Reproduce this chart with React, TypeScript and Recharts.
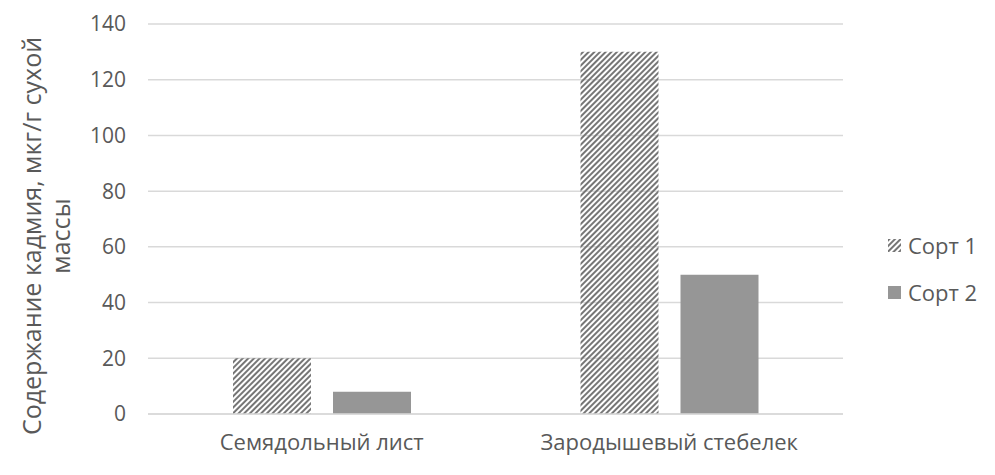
import { BarChart, Bar, XAxis, YAxis, CartesianGrid } from 'recharts';

const categories = ['Семядольный лист', 'Зародышевый стебелек'];
const sort1 = [20, 130];
const sort2 = [8, 50];
const yTicks = [0, 20, 40, 60, 80, 100, 120, 140];

const data = categories.map((name, i) => ({ name, s1: sort1[i], s2: sort2[i] }));

const FONT = '"Open Sans", sans-serif';
const TEXT = '#595959';

function YLabel() {
    return (
        <text
            transform="translate(41, 236) rotate(-90)"
            textAnchor="middle"
            fill={TEXT}
            fontSize={25}
            fontFamily={FONT}
        >
            <tspan x={0} dy={0}>Содержание кадмия, мкг/г сухой</tspan>
            <tspan x={0} dy={29}>массы</tspan>
        </text>
    );
}

function LegendBox() {
    return (
        <div style={{ position: 'absolute', left: 888, top: 231, fontFamily: FONT, fontSize: 22, color: TEXT, lineHeight: '28px' }}>
            <div style={{ display: 'flex', alignItems: 'center', height: 28, marginBottom: 19 }}>
                <svg width={13} height={13} style={{ marginRight: 7 }}>
                    <rect width={13} height={13} fill="url(#hatch)" />
                </svg>
                Сорт 1
            </div>
            <div style={{ display: 'flex', alignItems: 'center', height: 28 }}>
                <svg width={13} height={13} style={{ marginRight: 7 }}>
                    <rect width={13} height={13} fill="#969696" />
                </svg>
                Сорт 2
            </div>
        </div>
    );
}

export default function App() {
    return (
        <div style={{ position: 'absolute', left: 0, top: 0, width: 995, height: 475, background: '#fff' }}>
            <svg width={0} height={0} style={{ position: 'absolute' }}>
                <defs>
                    <pattern id="hatch" width={4} height={4} patternUnits="userSpaceOnUse" patternTransform="rotate(45)">
                        <rect width={2} height={4} fill="#767676" />
                    </pattern>
                </defs>
            </svg>
            <BarChart
                width={995}
                height={475}
                data={data}
                margin={{ top: 24, right: 152, bottom: 0, left: 0 }}
                barSize={78}
                barGap={22}
            >
                <CartesianGrid vertical={false} stroke="#d9d9d9" strokeWidth={1.5} />
                <XAxis
                    dataKey="name"
                    height={61}
                    axisLine={{ stroke: '#d9d9d9', strokeWidth: 1.5 }}
                    tickLine={false}
                    tick={{ fill: TEXT, fontSize: 22, fontFamily: FONT }}
                    tickMargin={14}
                />
                <YAxis
                    width={148}
                    domain={[0, 140]}
                    ticks={yTicks}
                    axisLine={false}
                    tickLine={false}
                    tick={{ fill: TEXT, fontSize: 21, fontFamily: FONT }}
                    tickMargin={16}
                    label={<YLabel />}
                />
                <Bar dataKey="s1" name="Сорт 1" fill="url(#hatch)" isAnimationActive={false} />
                <Bar dataKey="s2" name="Сорт 2" fill="#969696" isAnimationActive={false} />
            </BarChart>
            <LegendBox />
        </div>
    );
}
